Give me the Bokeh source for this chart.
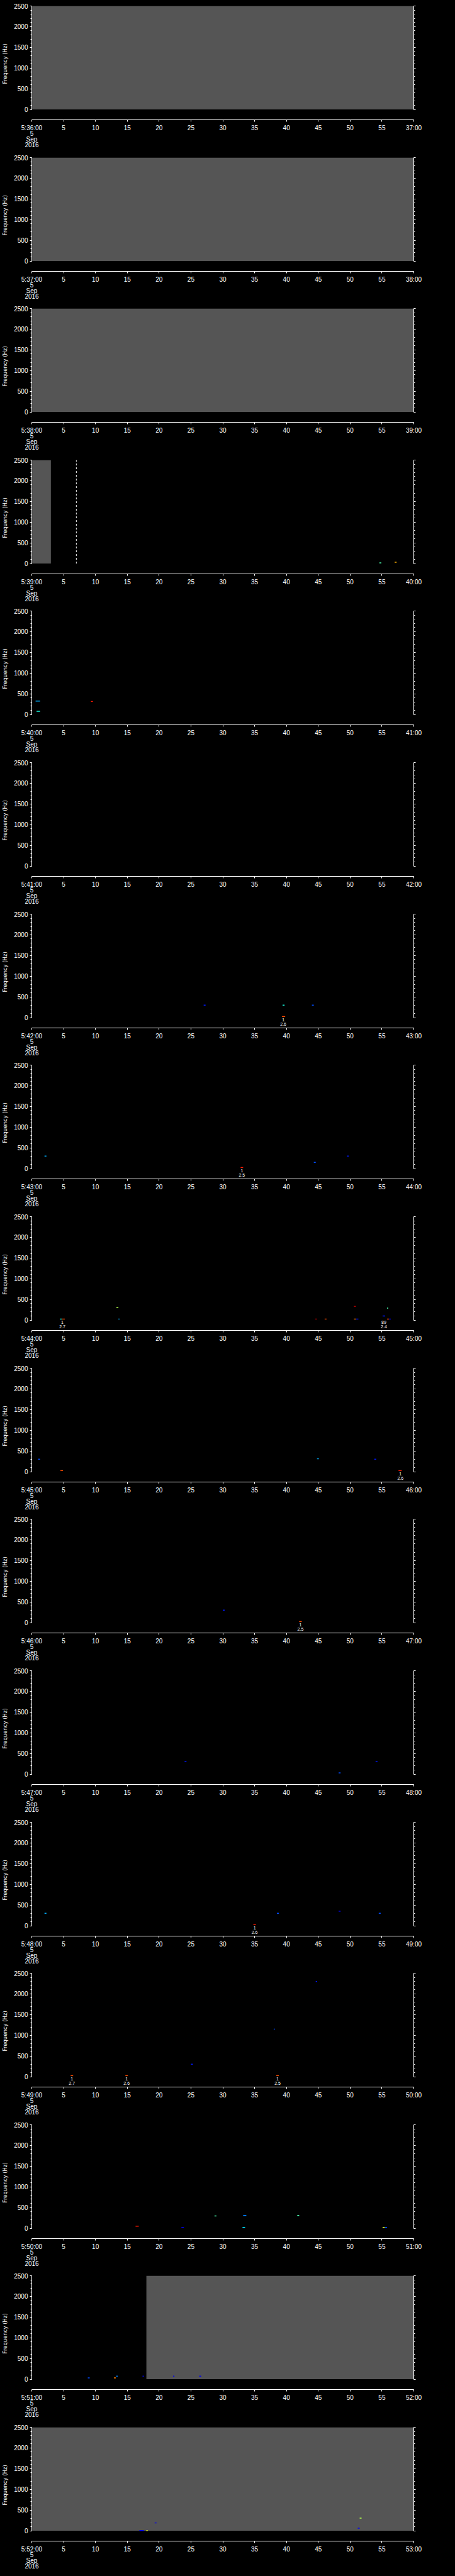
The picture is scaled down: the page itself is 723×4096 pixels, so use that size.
import math
from bokeh.plotting import figure
from bokeh.layouts import column
from bokeh.models import Range1d, LinearAxis, FixedTicker, Label, ColumnDataSource, LinearColorMapper
from bokeh.core.properties import value
from bokeh.embed import file_html
from bokeh.resources import INLINE

# ---------------- data ----------------
panel_minute = list(range(36, 53))          # 5:36 ... 5:52
panel_name = ["(%d)" % i for i in range(1, 18)]

# gray (no data) blocks: panel number, start s, end s
gray_panel = [1, 2, 3, 4, 16, 17]
gray_t0 = [0.0, 0.0, 0.0, 0.0, 18.0, 0.0]
gray_t1 = [60.0, 60.0, 60.0, 3.0, 60.0, 60.0]

# event markers
event_panel = [4]
event_t = [7.0]
event_text = ["$ADRUN,3,*"]

# detections: panel, start s, end s, frequency Hz, level (0..1 colour scale)
det_panel = [4, 4,
             5, 5, 5,
             7, 7, 7, 7,
             8, 8, 8, 8,
             9, 9, 9, 9, 9, 9, 9, 9, 9, 9, 9, 9, 9,
             10, 10, 10, 10, 10,
             11, 11,
             12, 12, 12,
             13, 13, 13, 13, 13,
             14, 14, 14, 14, 14, 14,
             15, 15, 15, 15, 15, 15, 15, 15,
             16, 16, 16, 16, 16, 16,
             17, 17, 17, 17, 17]
det_t0 = [54.6, 57.0,
          0.6, 0.75, 9.3,
          27.0, 39.3, 39.4, 44.0,
          2.0, 32.8, 44.3, 49.5,
          4.4, 4.75, 13.3, 13.6, 44.5, 46.0, 50.6, 50.95, 50.6, 55.1, 55.8, 55.8, 56.1,
          4.5, 44.8, 53.8, 57.6, 1.0,
          42.0, 30.0,
          24.0, 48.2, 54.0,
          2.0, 34.8, 38.5, 48.2, 54.5,
          6.1, 14.7, 38.4, 44.6, 38.0, 25.0,
          16.3, 23.5, 28.7, 33.2, 33.1, 41.7, 55.1, 55.45,
          8.8, 12.9, 13.25, 17.4, 22.2, 26.3,
          16.9, 18.0, 19.3, 51.5, 51.2]
det_t1 = [54.9, 57.3,
          1.3, 1.3, 9.6,
          27.3, 39.8, 39.7, 44.3,
          2.3, 33.2, 44.6, 49.8,
          4.75, 5.2, 13.6, 13.8, 44.8, 46.3, 50.95, 51.3, 50.9, 55.5, 56.0, 56.1, 56.4,
          4.9, 45.1, 54.1, 58.1, 1.3,
          42.4, 30.3,
          24.3, 48.5, 54.3,
          2.3, 35.2, 38.8, 48.5, 54.8,
          6.5, 15.1, 38.8, 44.8, 38.2, 25.3,
          16.8, 23.9, 29.0, 33.7, 33.5, 42.0, 55.45, 55.8,
          9.1, 13.2, 13.5, 17.6, 22.4, 26.6,
          17.6, 18.2, 19.6, 51.8, 51.5]
det_f = [15, 30,
         325, 78, 314,
         300, 25, 300, 300,
         300, 25, 150, 300,
         25, 25, 304, 25, 25, 25, 25, 25, 330, 100, 290, 25, 25,
         25, 310, 300, 25, 300,
         25, 300,
         300, 30, 300,
         300, 25, 300, 350, 300,
         25, 25, 25, 2300, 1150, 300,
         50, 20, 297, 307, 20, 307, 20, 20,
         32, 32, 73, 73, 73, 73,
         5, 5, 189, 304, 60]
det_level = [0.45, 0.7,
             0.3, 0.4, 0.85,
             0.15, 0.8, 0.4, 0.2,
             0.3, 0.85, 0.2, 0.15,
             0.4, 0.8, 0.55, 0.3, 0.95, 0.8, 0.75, 0.15, 0.95, 0.15, 0.45, 0.8, 0.12,
             0.8, 0.3, 0.15, 0.85, 0.2,
             0.8, 0.15,
             0.15, 0.2, 0.15,
             0.3, 0.85, 0.2, 0.1, 0.2,
             0.8, 0.8, 0.8, 0.15, 0.2, 0.15,
             0.85, 0.1, 0.45, 0.25, 0.35, 0.45, 0.6, 0.2,
             0.2, 0.75, 0.25, 0.12, 0.12, 0.12,
             0.12, 0.6, 0.12, 0.55, 0.12]

# detection count / value annotations
ann_panel = [7, 8, 9, 9, 10, 11, 13, 14, 14, 14]
ann_t = [39.5, 33.0, 4.8, 55.3, 57.9, 42.2, 35.0, 6.3, 14.9, 38.6]
ann_count = ["1", "1", "1", "89", "1", "1", "1", "1", "1", "1"]
ann_value = ["2.6", "2.5", "2.7", "2.4", "2.6", "2.5", "2.6", "2.7", "2.6", "2.5"]

# ---------------- styling / layout ----------------
S = 0.705
PANEL_H = 341.33 * S
FRAME_H = 181
FRAME_W = 609
LEFT = 48
WIDTH = 715
FONT = "Liberation Sans"
Y_TICKS = list(range(0, 2501, 500))
Y_MINOR = [v for v in range(100, 2500, 100) if v % 500]


def jet(v):
    def c(x):
        return max(0.0, min(1.0, x))
    r, g, b = c(1.5 - abs(4 * v - 3)), c(1.5 - abs(4 * v - 2)), c(1.5 - abs(4 * v - 1))
    return "#%02x%02x%02x" % (int(r * 255), int(g * 255), int(b * 255))


jet_palette = [jet(i / 255.0) for i in range(256)]
mapper = LinearColorMapper(palette=jet_palette, low=0.0, high=1.0)

figs = []
for k in range(17):
    pn = k + 1
    b0 = round(8 + k * PANEL_H)
    b1 = round(8 + (k + 1) * PANEL_H)
    h = b1 - b0
    top = round(16.92 + k * PANEL_H - b0)
    bottom = h - top - FRAME_H
    p = figure(width=WIDTH, height=h, output_backend="svg", toolbar_location=None,
               x_range=Range1d(0, 60), y_range=Range1d(-250, 2500),
               min_border_left=LEFT, min_border_right=WIDTH - LEFT - FRAME_W,
               min_border_top=top, min_border_bottom=bottom,
               background_fill_color="black", border_fill_color="black",
               outline_line_color=None)
    p.grid.visible = False

    m = panel_minute[k]
    overrides = {t: str(t) for t in range(5, 60, 5)}
    overrides[0] = "5:%d:00\n5\nSep\n2016" % m
    overrides[60] = "%d:00" % (m + 1)
    xa = p.xaxis[0]
    xa.ticker = FixedTicker(ticks=list(range(0, 61, 5)), minor_ticks=[])
    xa.major_label_overrides = overrides
    xa.bounds = (0, 60)
    xa.axis_line_color = "white"
    xa.major_tick_line_color = "white"
    xa.major_tick_in = 0
    xa.major_tick_out = 3
    xa.major_label_standoff = 4
    xa.major_label_text_color = "white"
    xa.major_label_text_font = FONT
    xa.major_label_text_font_size = "10px"
    xa.major_label_text_line_height = 0.82

    ya = p.yaxis[0]
    ya.ticker = FixedTicker(ticks=Y_TICKS, minor_ticks=Y_MINOR)
    ya.bounds = (0, 2500)
    ya.axis_line_color = "white"
    ya.major_tick_line_color = "white"
    ya.minor_tick_line_color = "white"
    ya.major_tick_in = 0
    ya.major_tick_out = 3
    ya.minor_tick_in = 0
    ya.minor_tick_out = 2
    ya.major_label_standoff = 3
    ya.major_label_text_color = "white"
    ya.major_label_text_font = FONT
    ya.major_label_text_font_size = "10px"
    ya.axis_label = "Frequency  (Hz)"
    ya.axis_label_text_color = "white"
    ya.axis_label_text_font = "DejaVu Sans"
    ya.axis_label_text_font_style = "normal"
    ya.axis_label_text_font_size = "8.5px"
    ya.axis_label_standoff = 6

    ra = LinearAxis(ticker=FixedTicker(ticks=Y_TICKS, minor_ticks=Y_MINOR),
                    bounds=(0, 2500), axis_line_color="white", major_tick_line_color="white",
                    minor_tick_line_color="white", major_tick_in=0, major_tick_out=3,
                    minor_tick_in=0, minor_tick_out=2, major_label_text_color=None,
                    major_label_text_font_size="10px", major_label_standoff=0)
    p.add_layout(ra, "right")

    # gray blocks
    gi = [i for i, g in enumerate(gray_panel) if g == pn]
    if gi:
        p.quad(left=[gray_t0[i] for i in gi], right=[gray_t1[i] for i in gi],
               bottom=0, top=2500, fill_color="#555555", line_color=None)

    # event marker
    for i, e in enumerate(event_panel):
        if e == pn:
            p.segment(x0=event_t[i], y0=0, x1=event_t[i], y1=2500, line_color="white",
                      line_width=1, line_dash="3 3")
            p.add_layout(Label(x=event_t[i], y=2500, text=event_text[i], text_color="white",
                               text_font=FONT, text_font_size="7px", text_align="center",
                               text_baseline="bottom", y_offset=3))

    # detections
    di = [i for i, d in enumerate(det_panel) if d == pn]
    if di:
        src = ColumnDataSource(dict(
            l=[det_t0[i] for i in di], r=[det_t1[i] for i in di],
            b=[det_f[i] - 11 for i in di], t=[det_f[i] + 11 for i in di],
            lev=[det_level[i] for i in di]))
        p.quad(left="l", right="r", bottom="b", top="t", source=src,
               fill_color={"field": "lev", "transform": mapper}, line_color=None)

    # annotations
    ai = [i for i, a in enumerate(ann_panel) if a == pn]
    if ai:
        p.text(x=[ann_t[i] for i in ai], y=-55, text=[ann_count[i] for i in ai],
               text_color="white", text_font=value(FONT), text_font_size="7px",
               text_align="center", text_baseline="middle")
        p.text(x=[ann_t[i] for i in ai], y=-158, text=[ann_value[i] for i in ai],
               text_color="white", text_font=value(FONT), text_font_size="7px",
               text_align="center", text_baseline="middle")

    # panel number
    p.add_layout(Label(x=-4.72, y=2248, text=panel_name[k], text_color="#a8a8a8",
                       text_font=FONT, text_font_size="9.5px", text_align="left",
                       text_baseline="middle"))
    figs.append(p)

layout = column(*figs, spacing=0)
html = file_html(layout, INLINE)
html = html.replace("<head>", "<head><style>html,body{background:#000;}</style>", 1)
open("out.html", "w").write(html)
